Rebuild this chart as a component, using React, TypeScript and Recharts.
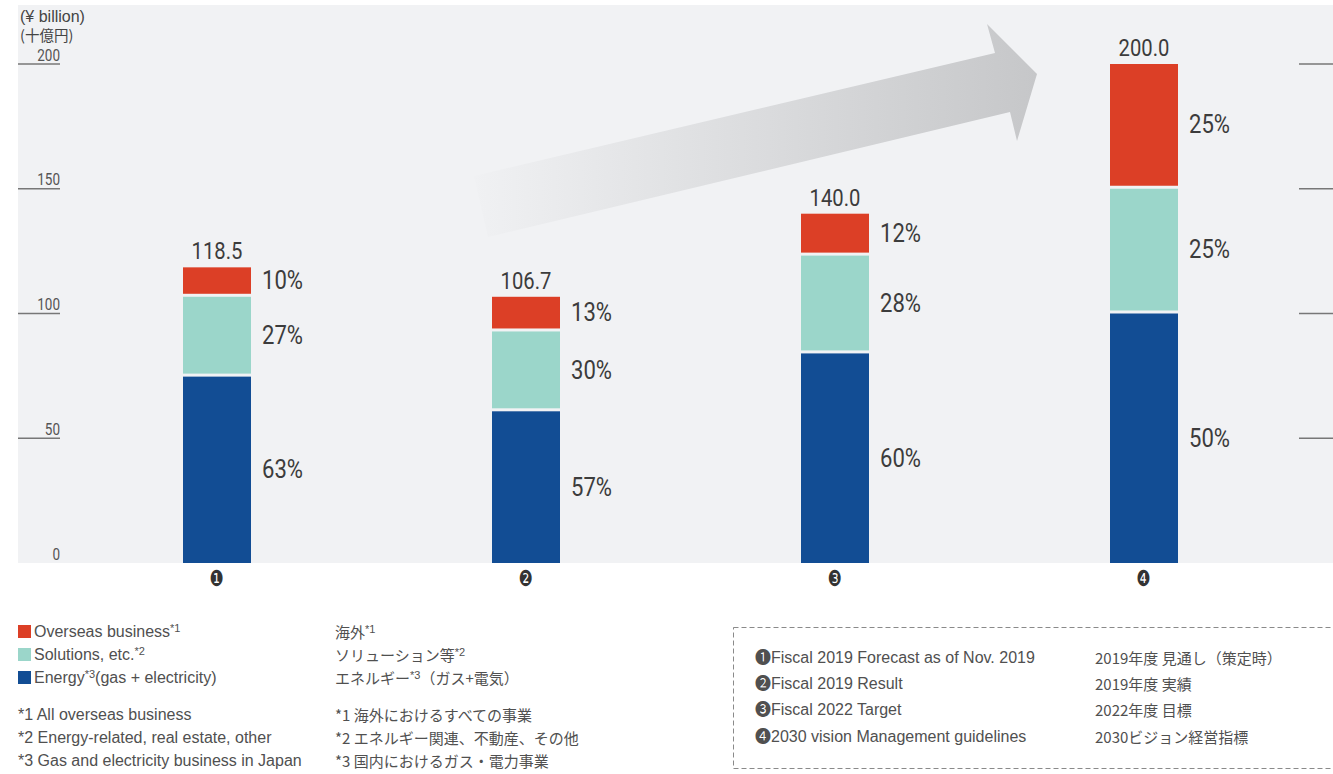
import React from 'react';
import { BarChart, Bar, XAxis, YAxis, LabelList } from 'recharts';

const categories = ['❶', '❷', '❸', '❹'];
const energy = [74.7, 60.8, 84.0, 100.0];
const solutions = [32.0, 32.0, 39.2, 50.0];
const overseas = [11.8, 13.9, 16.8, 50.0];
const totals = ['118.5', '106.7', '140.0', '200.0'];
const energyPct = ['63%', '57%', '60%', '50%'];
const solutionsPct = ['27%', '30%', '28%', '25%'];
const overseasPct = ['10%', '13%', '12%', '25%'];
const yTicks = [0, 50, 100, 150, 200];

const legendEn = [
  { color: '#dc3f26', text: 'Overseas business', sup: '*1' },
  { color: '#9bd6ca', text: 'Solutions, etc.', sup: '*2' },
  { color: '#124d94', text: 'Energy', sup: '*3', tail: '(gas + electricity)' },
];
const legendJa = [
  { text: '海外', sup: '*1', tail: '' },
  { text: 'ソリューション等', sup: '*2', tail: '' },
  { text: 'エネルギー', sup: '*3', tail: '（ガス+電気）' },
];
const notesEn = ['*1 All overseas business', '*2 Energy-related, real estate, other', '*3 Gas and electricity business in Japan'];
const notesJa = ['*1 海外におけるすべての事業', '*2 エネルギー関連、不動産、その他', '*3 国内におけるガス・電力事業'];
const keyEn = ['❶Fiscal 2019 Forecast as of Nov. 2019', '❷Fiscal 2019 Result', '❸Fiscal 2022 Target', '❹2030 vision Management guidelines'];
const keyJa = ['2019年度 見通し（策定時）', '2019年度 実績', '2022年度 目標', '2030ビジョン経営指標'];

const data = categories.map((name, i) => ({
  name,
  energy: energy[i],
  solutions: solutions[i],
  overseas: overseas[i],
}));

const COND = "Roboto, 'Liberation Sans', sans-serif";
const SANS = "'Liberation Sans', Arial, 'Noto Sans CJK JP', sans-serif";
const JA = "'Noto Sans CJK JP', 'Liberation Sans', sans-serif";

const segment = (bottomGap: number) => (props: any) => {
  const { x, y, width, height, fill } = props;
  const h = Math.max(0, Number(height) - bottomGap);
  return <rect x={Number(x)} y={Number(y)} width={Number(width)} height={h} fill={fill} />;
};

const CondText = ({ x, y, sx, size, anchor, baseline, children }: any) => (
  <text
    transform={`translate(${x},${y}) scale(${sx},1)`}
    x={0}
    y={0}
    textAnchor={anchor}
    dominantBaseline={baseline}
    fontFamily={COND}
    fontSize={size}
    fill="#3c3c3c"
  >
    {children}
  </text>
);

const pctLabel = (labels: string[], bottomGap: number) => (props: any) => {
  const { x, y, width, height, index } = props;
  const cy = Number(y) + (Number(height) - bottomGap) / 2;
  return (
    <CondText x={Number(x) + Number(width) + 11} y={cy} sx={0.85} size={26} anchor="start" baseline="central">
      {labels[index]}
    </CondText>
  );
};

const totalLabel = (props: any) => {
  const { x, y, width, index } = props;
  return (
    <CondText x={Number(x) + Number(width) / 2} y={Number(y) - 8} sx={0.88} size={23} anchor="middle" baseline="auto">
      {totals[index]}
    </CondText>
  );
};

const YTick = (props: any) => {
  const { y, payload } = props;
  const v = payload.value;
  const yy = Number(y);
  return (
    <g>
      {v !== 0 && <line x1={18} x2={60} y1={yy} y2={yy} stroke="#777" strokeWidth={1.5} />}
      {v !== 0 && <line x1={1299} x2={1333} y1={yy} y2={yy} stroke="#777" strokeWidth={1.5} />}
      <text
        transform={`translate(60,${yy - 3.5}) scale(0.82,1)`}
        x={0}
        y={0}
        textAnchor="end"
        fontFamily={COND}
        fontSize={16.5}
        fill="#555"
      >
        {v}
      </text>
    </g>
  );
};

const XTick = (props: any) => {
  const { x, y, payload } = props;
  return (
    <text
      transform={`translate(${Number(x)},${Number(y) + 15}) scale(0.72,1)`}
      x={0}
      y={0}
      textAnchor="middle"
      fontFamily="'DejaVu Sans', sans-serif"
      fontSize={22}
      fill="#333"
    >
      {payload.value}
    </text>
  );
};

const rowStyle = (top: number, left: number, family: string, size: number): React.CSSProperties => ({
  position: 'absolute',
  top,
  left,
  lineHeight: '20px',
  height: 20,
  whiteSpace: 'nowrap',
  fontFamily: family,
  fontSize: size,
  color: '#505050',
});

const supStyle: React.CSSProperties = { fontSize: 11, position: 'relative', top: -5 };

export default function App() {
  const legTops = [622, 645, 668];
  const noteTops = [705, 728, 751];
  const keyTops = [648, 674, 700, 727];
  return (
    <div style={{ position: 'absolute', left: 0, top: 0, width: 1333, height: 774, background: '#fff', overflow: 'hidden' }}>
      <div style={{ position: 'absolute', left: 18, top: 5, width: 1315, height: 558, background: '#f1f2f4' }} />
      <svg width={1333} height={774} style={{ position: 'absolute', left: 0, top: 0 }}>
        <defs>
          <linearGradient id="arrowGrad" gradientUnits="userSpaceOnUse" x1={474} y1={0} x2={1037} y2={0}>
            <stop offset="0" stopColor="#f0f1f3" />
            <stop offset="1" stopColor="#c6c7c9" />
          </linearGradient>
        </defs>
        <polygon points="474,176 995,53 987,24 1037,74 1017,141 1010,112 488,237" fill="url(#arrowGrad)" />
        <rect x={733.5} y={627.5} width={640} height={141} fill="none" stroke="#8a8a8a" strokeWidth={1} strokeDasharray="5 3" />
      </svg>
      <div style={{ position: 'absolute', left: 20, top: 8, height: 17, lineHeight: '17px', fontFamily: SANS, fontSize: 16, color: '#444', whiteSpace: 'nowrap' }}>
        (¥ billion)
      </div>
      <div style={{ position: 'absolute', left: 20, top: 26, height: 17, lineHeight: '17px', fontFamily: JA, fontSize: 14.5, color: '#444', whiteSpace: 'nowrap' }}>
        (十億円)
      </div>
      <div style={{ position: 'absolute', left: 0, top: 0 }}>
        <BarChart width={1333} height={600} data={data} margin={{ top: 64, right: 35, left: 18, bottom: 0 }} barSize={68}>
          <XAxis dataKey="name" axisLine={false} tickLine={false} height={37} tick={<XTick />} interval={0} />
          <YAxis domain={[0, 200]} ticks={yTicks} axisLine={false} tickLine={false} width={44} tick={<YTick />} interval={0} />
          <Bar dataKey="energy" stackId="a" fill="#124d94" isAnimationActive={false} shape={segment(0)}>
            <LabelList dataKey="energy" content={pctLabel(energyPct, 0)} />
          </Bar>
          <Bar dataKey="solutions" stackId="a" fill="#9bd6ca" isAnimationActive={false} shape={segment(3)}>
            <LabelList dataKey="solutions" content={pctLabel(solutionsPct, 3)} />
          </Bar>
          <Bar dataKey="overseas" stackId="a" fill="#dc3f26" isAnimationActive={false} shape={segment(3)}>
            <LabelList dataKey="overseas" content={pctLabel(overseasPct, 3)} />
            <LabelList dataKey="overseas" content={totalLabel} />
          </Bar>
        </BarChart>
      </div>
      {legendEn.map((l, i) => (
        <div key={'le' + i} style={rowStyle(legTops[i], 18, SANS, 16)}>
          <span style={{ display: 'inline-block', width: 13, height: 13, background: l.color, marginRight: 3, verticalAlign: -1 }} />
          {l.text}
          <span style={supStyle}>{l.sup}</span>
          {l.tail || ''}
        </div>
      ))}
      {legendJa.map((l, i) => (
        <div key={'lj' + i} style={rowStyle(legTops[i], 335, JA, 15)}>
          {l.text}
          <span style={{ ...supStyle, fontFamily: SANS }}>{l.sup}</span>
          {l.tail}
        </div>
      ))}
      {notesEn.map((t, i) => (
        <div key={'ne' + i} style={rowStyle(noteTops[i], 18, SANS, 16)}>{t}</div>
      ))}
      {notesJa.map((t, i) => (
        <div key={'nj' + i} style={rowStyle(noteTops[i], 335, JA, 15)}>{t}</div>
      ))}
      {keyEn.map((t, i) => (
        <div key={'ke' + i} style={rowStyle(keyTops[i], 755, SANS, 16)}>{t}</div>
      ))}
      {keyJa.map((t, i) => (
        <div key={'kj' + i} style={rowStyle(keyTops[i], 1095, JA, 15)}>{t}</div>
      ))}
    </div>
  );
}
